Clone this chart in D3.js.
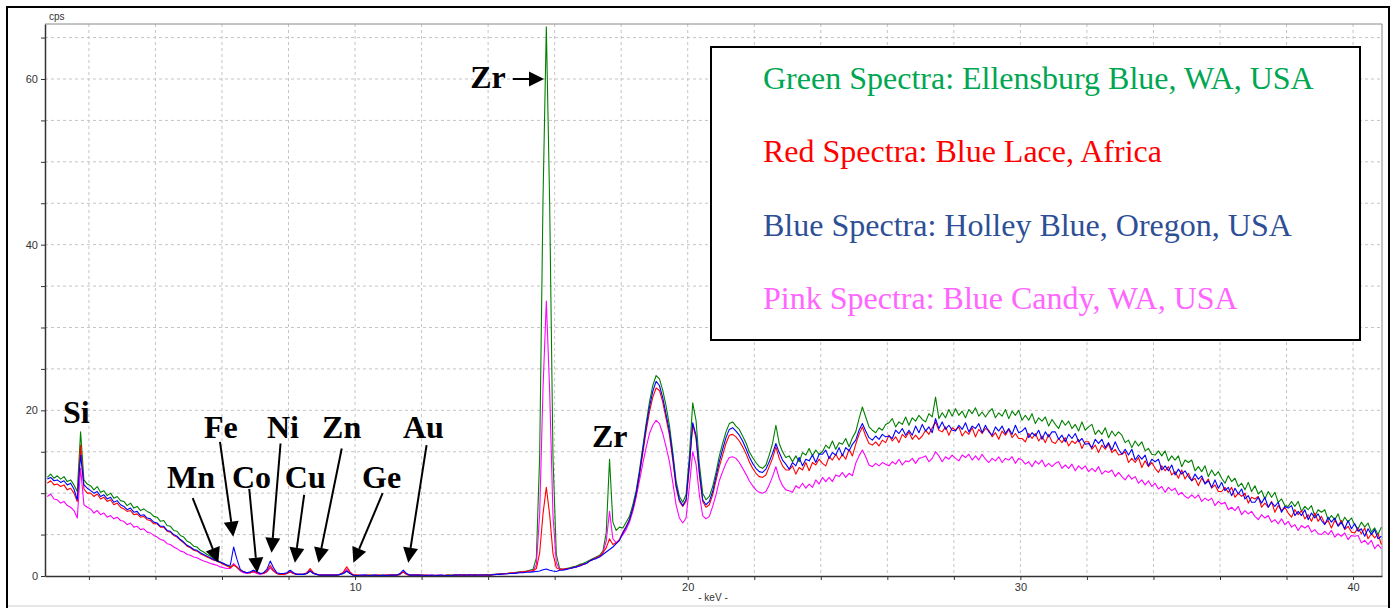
<!DOCTYPE html>
<html>
<head>
<meta charset="utf-8">
<script src="https://cdn.jsdelivr.net/npm/d3@7"></script>
<style>
  body { margin: 0; background: #fff; }
  svg { display: block; }
  .axis text { font-family: "Liberation Sans", Arial, sans-serif; font-size: 11px; fill: #333; }
  .axis line { stroke: #333; }
  .axis path { stroke: #333; stroke-width: 1.5; }
</style>
</head>
<body>
<svg id="chart" width="1395" height="608"></svg>
<script>
// Spectra, cps per 0.1 keV channel.
// Row 0 holds 0.75..0.95 keV, row n holds n.05 .. n.95 keV (row 40 stops at 40.85).
const green = [
  [11.9, 12.3, 11.8],
  [12.1, 11.7, 12.0, 11.4, 11.6, 11.0, 10.2, 17.4, 11.6, 11.1],
  [10.9, 10.4, 10.8, 10.1, 10.3, 9.7, 10.0, 9.4, 9.6, 9.1],
  [9.0, 8.5, 8.8, 8.2, 8.4, 7.9, 8.1, 7.8, 7.6, 7.2],
  [7.1, 6.6, 6.7, 6.1, 6.0, 5.5, 5.4, 4.9, 4.7, 4.2],
  [4.0, 3.6, 3.5, 3.1, 2.9, 2.6, 2.4, 2.1, 1.9, 1.7],
  [1.5, 1.3, 1.1, 1.4, 1.0, 0.7, 0.5, 0.4, 0.4, 0.5],
  [0.4, 0.3, 0.3, 0.5, 1.0, 0.6, 0.3, 0.2, 0.2, 0.3],
  [0.5, 0.3, 0.2, 0.2, 0.2, 0.3, 0.6, 0.3, 0.2, 0.1],
  [0.1, 0.1, 0.1, 0.1, 0.1, 0.2, 0.3, 0.6, 0.3, 0.1],
  [0.1, 0.05, 0.1, 0.05, 0.1, 0.1, 0.05, 0.1, 0.1, 0.1],
  [0.1, 0.1, 0.1, 0.2, 0.5, 0.2, 0.1, 0.1, 0.1, 0.1],
  [0.05, 0.1, 0.05, 0.05, 0.1, 0.05, 0.05, 0.1, 0.1, 0.1],
  [0.1, 0.1, 0.15, 0.1, 0.1, 0.15, 0.15, 0.1, 0.15, 0.15],
  [0.15, 0.2, 0.2, 0.25, 0.3, 0.3, 0.35, 0.4, 0.45, 0.5],
  [0.55, 0.6, 0.7, 0.8, 2.2, 14.5, 45.5, 66.3, 45.0, 14.3],
  [2.6, 0.9, 0.8, 0.9, 1.0, 1.1, 1.2, 1.4, 1.5, 1.7],
  [1.9, 2.1, 2.3, 2.5, 3.0, 5.2, 14.1, 6.5, 5.5, 5.9],
  [5.8, 6.5, 7.2, 8.6, 10.3, 12.8, 15.6, 18.4, 21.0, 23.0],
  [24.2, 23.8, 22.4, 20.5, 18.2, 15.0, 11.5, 9.6, 8.9, 9.8],
  [14.5, 20.9, 18.8, 13.5, 10.0, 9.2, 9.6, 10.8, 12.5, 14.5],
  [16.0, 17.4, 18.4, 18.6, 18.1, 17.7, 16.9, 16.1, 15.0, 14.3],
  [13.7, 13.2, 13.0, 13.4, 14.6, 16.0, 18.2, 16.0, 15.0, 14.3],
  [14.5, 13.8, 14.5, 13.8, 14.9, 14.6, 15.4, 14.5, 15.2, 14.7],
  [15.0, 15.8, 15.4, 16.3, 15.3, 16.1, 15.9, 16.6, 15.6, 16.7],
  [17.4, 19.0, 20.4, 19.2, 18.0, 17.6, 17.3, 17.9, 17.6, 18.3],
  [18.5, 19.0, 18.0, 18.6, 18.3, 19.2, 18.2, 19.1, 18.7, 19.4],
  [18.9, 18.6, 19.6, 19.2, 21.6, 19.0, 19.7, 19.1, 20.1, 19.3],
  [20.2, 19.4, 19.9, 19.1, 20.1, 19.6, 20.3, 19.3, 19.8, 19.2],
  [19.8, 20.2, 19.1, 19.7, 19.3, 20.1, 19.0, 19.9, 19.4, 20.0],
  [18.8, 19.4, 18.8, 19.6, 18.4, 19.1, 18.7, 19.2, 18.1, 18.9],
  [18.3, 17.8, 18.8, 18.2, 18.7, 17.8, 18.3, 17.5, 18.6, 17.6],
  [18.0, 18.3, 17.1, 17.6, 17.1, 17.9, 16.7, 17.5, 16.9, 17.4],
  [17.0, 16.1, 16.4, 15.5, 16.3, 15.7, 16.2, 15.1, 15.4, 14.7],
  [14.6, 15.1, 14.5, 15.1, 13.9, 14.5, 14.0, 14.5, 13.2, 14.0],
  [13.7, 14.0, 12.7, 13.2, 12.6, 13.3, 12.0, 12.8, 12.1, 12.6],
  [11.8, 11.2, 12.1, 11.4, 11.8, 10.8, 11.2, 10.4, 11.3, 10.2],
  [10.9, 9.9, 10.3, 9.3, 10.2, 9.5, 10.1, 8.9, 9.3, 8.5],
  [8.4, 9.0, 8.4, 9.0, 7.8, 8.4, 8.0, 8.5, 7.2, 8.0],
  [7.7, 8.0, 6.8, 7.3, 6.8, 7.5, 6.3, 7.1, 6.5, 7.0],
  [6.2, 5.7, 6.5, 5.9, 6.4, 5.3, 5.8, 5.0, 5.9]
];

const red = [
  [11.2, 11.5, 11.0],
  [11.1, 10.8, 11.0, 10.4, 10.6, 10.0, 9.0, 15.8, 10.5, 10.0],
  [10.0, 9.6, 9.9, 9.3, 9.5, 9.0, 9.2, 8.6, 8.8, 8.3],
  [8.1, 7.8, 7.9, 7.4, 7.5, 7.1, 7.2, 6.8, 6.7, 6.3],
  [6.3, 5.9, 5.9, 5.4, 5.3, 4.9, 4.7, 4.3, 4.0, 3.6],
  [3.4, 3.1, 3.0, 2.7, 2.5, 2.3, 2.1, 1.9, 1.8, 1.6],
  [1.4, 1.2, 1.0, 1.3, 1.1, 0.7, 0.5, 0.4, 0.4, 0.6],
  [0.4, 0.3, 0.3, 0.6, 1.3, 0.7, 0.3, 0.2, 0.2, 0.3],
  [0.5, 0.3, 0.2, 0.2, 0.2, 0.4, 0.9, 0.4, 0.2, 0.1],
  [0.1, 0.1, 0.1, 0.1, 0.1, 0.2, 0.5, 1.1, 0.5, 0.1],
  [0.1, 0.1, 0.05, 0.1, 0.1, 0.05, 0.1, 0.1, 0.05, 0.1],
  [0.1, 0.1, 0.1, 0.2, 0.5, 0.2, 0.1, 0.1, 0.1, 0.1],
  [0.1, 0.1, 0.05, 0.1, 0.05, 0.1, 0.05, 0.1, 0.1, 0.05],
  [0.15, 0.1, 0.1, 0.15, 0.1, 0.1, 0.15, 0.1, 0.15, 0.1],
  [0.1, 0.15, 0.2, 0.25, 0.25, 0.3, 0.35, 0.35, 0.4, 0.45],
  [0.5, 0.55, 0.6, 0.6, 0.9, 2.8, 7.5, 10.7, 7.4, 2.7],
  [1.0, 0.8, 0.8, 0.9, 0.9, 1.0, 1.1, 1.3, 1.4, 1.5],
  [1.8, 2.0, 2.2, 2.4, 2.8, 3.4, 4.5, 3.8, 4.0, 4.4],
  [5.3, 6.0, 6.8, 8.1, 9.8, 12.2, 14.8, 17.5, 19.8, 21.6],
  [22.7, 22.4, 21.0, 19.0, 17.0, 14.0, 10.7, 9.0, 8.4, 9.0],
  [13.2, 18.3, 16.6, 12.2, 9.0, 8.3, 8.6, 9.8, 11.5, 13.2],
  [14.6, 16.0, 17.0, 17.1, 16.8, 16.3, 15.6, 14.8, 13.8, 13.0],
  [12.4, 12.0, 11.9, 12.2, 13.2, 14.2, 15.6, 14.2, 13.3, 12.8],
  [12.8, 13.3, 12.3, 13.1, 12.8, 13.7, 12.7, 13.7, 13.4, 14.1],
  [13.6, 13.3, 14.4, 14.0, 14.7, 14.0, 14.7, 14.1, 15.3, 14.5],
  [15.9, 17.1, 18.0, 16.9, 16.0, 15.8, 16.2, 15.7, 16.4, 16.1],
  [17.0, 16.3, 16.8, 16.1, 17.1, 16.7, 17.4, 16.5, 17.0, 16.5],
  [16.9, 17.6, 17.1, 17.9, 18.6, 17.6, 17.4, 18.0, 17.0, 17.9],
  [17.6, 18.0, 16.9, 17.5, 17.1, 17.9, 16.8, 17.7, 17.2, 17.8],
  [17.6, 16.8, 17.3, 16.5, 17.5, 17.0, 17.7, 16.7, 17.2, 16.6],
  [16.6, 16.2, 17.2, 16.6, 17.2, 16.3, 16.9, 16.1, 17.1, 16.2],
  [16.0, 16.6, 16.1, 16.7, 15.7, 16.3, 16.0, 16.5, 15.4, 16.2],
  [16.2, 15.3, 15.8, 14.9, 15.8, 15.3, 15.9, 14.9, 15.3, 14.6],
  [14.7, 15.0, 13.7, 14.2, 13.7, 14.3, 13.1, 13.9, 13.2, 13.7],
  [13.0, 12.5, 13.3, 12.7, 13.2, 12.2, 12.6, 11.8, 12.8, 11.7],
  [12.4, 11.5, 11.8, 10.9, 11.8, 11.2, 11.7, 10.6, 11.0, 10.2],
  [10.2, 10.7, 10.1, 10.7, 9.5, 10.0, 9.6, 10.0, 8.8, 9.5],
  [9.3, 9.6, 8.3, 8.8, 8.3, 9.0, 7.7, 8.5, 7.9, 8.3],
  [7.6, 7.1, 8.0, 7.4, 7.9, 6.9, 7.4, 6.6, 7.6, 6.6],
  [7.2, 6.3, 6.7, 5.8, 6.7, 6.1, 6.7, 5.6, 6.0, 5.3],
  [5.2, 5.8, 5.1, 5.8, 4.5, 5.1, 4.6, 5.1, 3.8]
];

const blue = [
  [11.7, 11.9, 11.5],
  [11.6, 11.3, 11.5, 11.0, 11.2, 10.5, 9.2, 14.6, 11.0, 10.6],
  [10.3, 10.0, 10.2, 9.6, 9.8, 9.3, 9.5, 8.9, 9.1, 8.6],
  [8.4, 8.0, 8.2, 7.7, 7.8, 7.3, 7.4, 7.0, 6.9, 6.5],
  [6.4, 6.0, 6.0, 5.5, 5.4, 5.0, 4.8, 4.4, 4.1, 3.7],
  [3.5, 3.2, 3.1, 2.8, 2.6, 2.4, 2.2, 2.0, 1.8, 1.7],
  [1.5, 1.3, 1.3, 3.5, 2.0, 0.8, 0.5, 0.4, 0.5, 0.7],
  [0.5, 0.3, 0.4, 0.8, 1.8, 1.0, 0.4, 0.3, 0.3, 0.4],
  [0.7, 0.4, 0.2, 0.2, 0.2, 0.3, 0.6, 0.3, 0.2, 0.1],
  [0.1, 0.1, 0.1, 0.1, 0.1, 0.2, 0.3, 0.6, 0.3, 0.1],
  [0.05, 0.1, 0.1, 0.1, 0.05, 0.1, 0.1, 0.05, 0.1, 0.05],
  [0.1, 0.1, 0.1, 0.3, 0.7, 0.3, 0.1, 0.1, 0.1, 0.1],
  [0.1, 0.05, 0.1, 0.1, 0.05, 0.1, 0.1, 0.05, 0.05, 0.1],
  [0.1, 0.15, 0.1, 0.1, 0.15, 0.1, 0.1, 0.15, 0.1, 0.15],
  [0.1, 0.15, 0.2, 0.2, 0.25, 0.25, 0.3, 0.3, 0.35, 0.4],
  [0.4, 0.45, 0.45, 0.5, 0.55, 0.6, 0.75, 0.85, 0.7, 0.6],
  [0.55, 0.7, 0.7, 0.8, 0.9, 1.0, 1.1, 1.2, 1.4, 1.5],
  [1.8, 2.0, 2.1, 2.3, 2.6, 2.9, 3.2, 3.5, 3.9, 4.3],
  [5.2, 5.9, 6.8, 8.2, 10.0, 12.4, 15.2, 18.0, 20.4, 22.3],
  [23.5, 23.0, 21.5, 19.5, 17.5, 14.5, 11.0, 9.2, 8.5, 9.2],
  [13.5, 18.5, 17.0, 12.6, 9.2, 8.6, 9.0, 10.2, 12.0, 13.8],
  [15.3, 16.7, 17.7, 17.9, 17.5, 17.0, 16.3, 15.4, 14.4, 13.6],
  [13.0, 12.6, 12.5, 12.9, 13.8, 14.8, 16.0, 14.9, 14.0, 13.5],
  [12.9, 13.7, 13.3, 14.3, 13.3, 14.1, 13.9, 14.6, 13.7, 14.7],
  [14.7, 15.2, 14.2, 14.9, 14.6, 15.5, 14.5, 15.5, 15.1, 15.9],
  [16.4, 17.6, 18.4, 17.5, 16.7, 16.4, 16.9, 16.5, 17.1, 16.8],
  [16.9, 16.6, 17.6, 17.2, 17.8, 17.0, 17.6, 17.0, 18.1, 17.3],
  [18.3, 17.5, 18.0, 17.3, 19.0, 17.8, 18.6, 17.7, 18.2, 17.6],
  [17.5, 18.2, 17.7, 18.5, 17.4, 18.1, 17.8, 18.4, 17.3, 18.2],
  [17.4, 17.0, 18.0, 17.5, 18.1, 17.2, 17.8, 17.1, 18.2, 17.3],
  [17.5, 17.9, 16.7, 17.3, 16.9, 17.6, 16.5, 17.4, 16.8, 17.4],
  [17.4, 16.5, 17.0, 16.2, 17.1, 16.6, 17.2, 16.2, 16.6, 15.9],
  [16.0, 15.5, 16.5, 16.0, 16.5, 15.5, 16.1, 15.2, 16.2, 15.3],
  [14.7, 15.3, 14.6, 15.3, 14.0, 14.6, 14.1, 14.6, 13.3, 14.1],
  [13.8, 14.1, 12.8, 13.3, 12.7, 13.4, 12.2, 12.9, 12.3, 12.7],
  [12.0, 11.5, 12.3, 11.7, 12.1, 11.1, 11.5, 10.7, 11.6, 10.6],
  [11.3, 10.3, 10.7, 9.7, 10.6, 9.9, 10.5, 9.3, 9.7, 8.9],
  [8.9, 9.5, 8.8, 9.5, 8.3, 8.9, 8.4, 8.9, 7.7, 8.4],
  [8.2, 8.5, 7.3, 7.8, 7.3, 8.0, 6.8, 7.6, 7.0, 7.5],
  [6.7, 6.2, 7.1, 6.5, 7.0, 6.0, 6.5, 5.7, 6.7, 5.7],
  [6.3, 5.4, 5.7, 4.8, 5.7, 5.0, 5.6, 4.5, 4.8]
];

const pink = [
  [9.6, 9.9, 9.3],
  [9.2, 8.8, 9.0, 8.5, 8.3, 7.9, 7.0, 13.0, 8.6, 8.3],
  [8.1, 7.6, 7.9, 7.4, 7.6, 7.1, 7.3, 6.9, 7.1, 6.7],
  [6.6, 6.2, 6.4, 5.9, 6.0, 5.6, 5.7, 5.3, 5.2, 4.9],
  [4.7, 4.4, 4.3, 3.9, 3.8, 3.5, 3.3, 3.0, 2.9, 2.6],
  [2.5, 2.3, 2.2, 2.0, 1.8, 1.7, 1.5, 1.4, 1.3, 1.1],
  [1.0, 0.9, 0.9, 1.5, 1.1, 0.6, 0.4, 0.3, 0.4, 0.5],
  [0.3, 0.2, 0.3, 0.5, 1.0, 0.6, 0.3, 0.2, 0.2, 0.3],
  [0.5, 0.3, 0.2, 0.2, 0.2, 0.3, 0.7, 0.3, 0.2, 0.1],
  [0.1, 0.1, 0.1, 0.1, 0.1, 0.2, 0.4, 0.8, 0.4, 0.1],
  [0.1, 0.05, 0.1, 0.1, 0.05, 0.1, 0.1, 0.05, 0.1, 0.1],
  [0.1, 0.1, 0.1, 0.2, 0.5, 0.2, 0.1, 0.1, 0.1, 0.1],
  [0.05, 0.1, 0.1, 0.05, 0.1, 0.1, 0.05, 0.1, 0.05, 0.1],
  [0.1, 0.1, 0.15, 0.1, 0.15, 0.1, 0.15, 0.1, 0.1, 0.15],
  [0.1, 0.15, 0.2, 0.2, 0.25, 0.3, 0.3, 0.35, 0.4, 0.45],
  [0.5, 0.55, 0.6, 0.6, 1.4, 7.5, 22.6, 33.2, 22.3, 7.3],
  [1.6, 0.8, 0.8, 0.8, 0.9, 1.0, 1.1, 1.2, 1.4, 1.5],
  [1.8, 2.0, 2.2, 2.4, 2.8, 4.2, 7.8, 4.5, 4.0, 4.4],
  [5.0, 5.6, 6.5, 7.8, 9.5, 11.5, 13.6, 15.5, 17.2, 18.2],
  [18.8, 18.4, 17.2, 15.6, 13.8, 11.3, 8.6, 7.0, 6.4, 7.0],
  [10.8, 15.0, 13.5, 9.8, 7.3, 6.9, 7.2, 8.4, 9.8, 11.5],
  [12.6, 13.6, 14.3, 14.4, 14.2, 13.7, 13.0, 12.3, 11.5, 10.9],
  [10.4, 10.1, 10.0, 10.2, 11.0, 12.0, 13.2, 11.8, 10.9, 10.4],
  [10.3, 10.1, 10.9, 10.6, 11.2, 10.6, 11.1, 10.7, 11.6, 11.1],
  [11.9, 11.4, 11.9, 11.4, 12.2, 12.0, 12.5, 11.9, 12.4, 12.1],
  [13.6, 14.5, 15.2, 14.4, 13.4, 13.2, 13.6, 13.3, 13.7, 13.5],
  [13.3, 13.8, 13.5, 14.1, 13.4, 13.9, 13.8, 14.2, 13.6, 14.2],
  [14.3, 14.5, 13.8, 14.2, 15.0, 14.5, 13.8, 14.4, 14.1, 14.6],
  [14.2, 13.9, 14.6, 14.3, 14.7, 14.0, 14.5, 14.0, 14.7, 14.1],
  [13.7, 14.2, 13.9, 14.4, 13.7, 14.2, 14.0, 14.4, 13.6, 14.2],
  [14.0, 13.5, 13.8, 13.2, 13.9, 13.5, 14.0, 13.2, 13.6, 13.2],
  [13.6, 13.8, 13.0, 13.4, 13.0, 13.5, 12.7, 13.3, 12.9, 13.3],
  [12.6, 13.0, 12.6, 13.2, 12.3, 12.7, 12.5, 12.8, 12.0, 12.5],
  [12.0, 11.6, 12.2, 11.7, 12.0, 11.2, 11.6, 11.0, 11.5, 10.8],
  [11.2, 10.5, 10.8, 10.1, 10.7, 10.3, 10.6, 9.8, 10.1, 9.6],
  [9.4, 9.8, 9.4, 9.8, 9.0, 9.4, 9.1, 9.4, 8.5, 9.0],
  [8.7, 8.9, 8.0, 8.3, 7.9, 8.4, 7.4, 7.9, 7.5, 7.8],
  [7.2, 6.8, 7.4, 7.0, 7.3, 6.5, 6.8, 6.3, 6.9, 6.2],
  [6.6, 5.9, 6.2, 5.5, 6.1, 5.8, 6.1, 5.3, 5.6, 5.1],
  [5.0, 5.4, 5.0, 5.5, 4.7, 5.1, 4.8, 5.2, 4.4, 4.9],
  [4.8, 4.9, 4.0, 4.3, 3.8, 4.3, 3.3, 3.8, 3.3]
];

const legendLabels = [
  "Green Spectra: Ellensburg Blue, WA, USA",
  "Red Spectra: Blue Lace, Africa",
  "Blue Spectra: Holley Blue, Oregon, USA",
  "Pink Spectra: Blue Candy, WA, USA"
];
const legendColors = ["#00a651", "#ff0000", "#2e4f96", "#ff66ff"];

// element labels: text position and arrow tail/tip, in keV / cps
const elements = [
  {label: "Si", x: 1.22, y: 18.5},
  {label: "Fe", x: 5.46, y: 16.6, from: [5.94, 16.2], to: [6.34, 4.75]},
  {label: "Ni", x: 7.35, y: 16.6, from: [7.76, 16.0], to: [7.49, 2.8]},
  {label: "Zn", x: 9.01, y: 16.6, from: [9.60, 15.4], to: [8.90, 1.6]},
  {label: "Au", x: 11.44, y: 16.6, from: [12.15, 15.8], to: [11.60, 1.6]},
  {label: "Mn", x: 4.35, y: 10.6, from: [5.12, 9.4], to: [5.89, 1.6]},
  {label: "Co", x: 6.30, y: 10.6, from: [6.82, 10.5], to: [7.06, 0.4]},
  {label: "Cu", x: 7.89, y: 10.6, from: [8.47, 9.8], to: [8.19, 1.6]},
  {label: "Ge", x: 10.21, y: 10.6, from: [10.83, 10.0], to: [9.95, 1.6]},
  {label: "Zr", x: 13.46, y: 58.9, from: [14.74, 60.0], to: [15.68, 60.0]},
  {label: "Zr", x: 17.12, y: 15.6}
];

function channels(rows) {
  const pts = [];
  rows.forEach((row, r) => row.forEach((v, j) => {
    const e = r === 0 ? 0.75 + 0.1 * j : r + 0.05 + 0.1 * j;
    pts.push([e, v]);
  }));
  return pts;
}

const series = [
  {color: "#008000", data: channels(green)},
  {color: "#ff00ff", data: channels(pink)},
  {color: "#ff0000", data: channels(red)},
  {color: "#0000ff", data: channels(blue)}
];

const svg = d3.select("#chart");
const plot = {left: 45, right: 1382, top: 24, bottom: 576};

const x = d3.scaleLinear().domain([0.68, 40.87]).range([plot.left, plot.right]);
const y = d3.scaleLinear().domain([0, 66.64]).range([plot.bottom, plot.top]);

svg.append("rect").attr("width", 1395).attr("height", 608).attr("fill", "#fff");

// outer frame (the bottom edge is cut off in the original, only a faint line)
svg.append("path")
   .attr("d", "M7,608V7H1389V608")
   .attr("fill", "none").attr("stroke", "#000").attr("stroke-width", 2);
svg.append("line")
   .attr("x1", 8).attr("x2", 1388).attr("y1", 606).attr("y2", 606)
   .attr("stroke", "#e6e6e6").attr("stroke-width", 2);

// dashed grid
const grid = svg.append("g").attr("stroke", "#c4c4c4").attr("stroke-dasharray", "3,3");
grid.selectAll(".gx").data(d3.range(2, 41, 2)).join("line")
    .attr("x1", d => x(d)).attr("x2", d => x(d))
    .attr("y1", plot.top).attr("y2", plot.bottom);
grid.selectAll(".gy").data(d3.range(5, 66, 5)).join("line")
    .attr("x1", plot.left).attr("x2", plot.right)
    .attr("y1", d => y(d)).attr("y2", d => y(d));

// top and right border of the plot area
svg.append("path")
   .attr("d", `M${plot.left},${plot.top}H${plot.right}V${plot.bottom}`)
   .attr("fill", "none").attr("stroke", "#888");

svg.append("clipPath").attr("id", "clip")
   .append("rect").attr("x", plot.left).attr("y", plot.top - 2)
   .attr("width", plot.right - plot.left).attr("height", plot.bottom - plot.top + 2);

const line = d3.line().x(d => x(d[0])).y(d => y(d[1]));

svg.append("g").attr("clip-path", "url(#clip)")
   .selectAll("path").data(series).join("path")
   .attr("fill", "none")
   .attr("stroke", d => d.color)
   .attr("stroke-width", 1.1)
   .attr("stroke-linejoin", "round")
   .attr("d", d => line(d.data));

// axes
svg.append("g").attr("class", "axis")
   .attr("transform", `translate(${plot.left},0)`)
   .call(d3.axisLeft(y).tickValues(d3.range(0, 66, 5))
          .tickFormat(d => d % 20 === 0 ? d : "").tickSize(4).tickSizeOuter(0));

svg.append("g").attr("class", "axis")
   .attr("transform", `translate(0,${plot.bottom})`)
   .call(d3.axisBottom(x).tickValues(d3.range(2, 41, 2))
          .tickFormat(d => d % 10 === 0 ? d : "").tickSize(4).tickSizeOuter(0));

svg.append("text").attr("x", 49).attr("y", 20)
   .style("font-family", "'Liberation Sans', Arial, sans-serif").style("font-size", "10px")
   .attr("fill", "#333").text("cps");

svg.append("text").attr("x", 713).attr("y", 601).attr("text-anchor", "middle")
   .style("font-family", "'Liberation Sans', Arial, sans-serif").style("font-size", "10px")
   .attr("fill", "#333").text("- keV -");

// element labels and arrows
const ann = svg.append("g");
ann.selectAll("text").data(elements).join("text")
   .attr("x", d => x(d.x)).attr("y", d => y(d.y))
   .style("font-family", "'Times New Roman', 'Liberation Serif', serif")
   .style("font-size", "32px").style("font-weight", "bold")
   .attr("fill", "#000")
   .text(d => d.label);

elements.filter(d => d.from).forEach(d => {
  const x0 = x(d.from[0]), y0 = y(d.from[1]);
  const x1 = x(d.to[0]), y1 = y(d.to[1]);
  const len = Math.hypot(x1 - x0, y1 - y0);
  const ux = (x1 - x0) / len, uy = (y1 - y0) / len;
  const head = 15, half = 7.5;
  const bx = x1 - ux * head, by = y1 - uy * head;
  ann.append("line")
     .attr("x1", x0).attr("y1", y0).attr("x2", bx).attr("y2", by)
     .attr("stroke", "#000").attr("stroke-width", 2);
  ann.append("path")
     .attr("d", `M${x1},${y1}L${bx - uy * half},${by + ux * half}L${bx + uy * half},${by - ux * half}Z`)
     .attr("fill", "#000");
});

// legend box
const legend = svg.append("g");
legend.append("rect")
      .attr("x", 711).attr("y", 47).attr("width", 649).attr("height", 293)
      .attr("fill", "#fff").attr("stroke", "#000").attr("stroke-width", 2);

legend.selectAll("text").data(legendLabels).join("text")
      .attr("x", 763).attr("y", (d, i) => 89 + i * 73.3)
      .style("font-family", "'Times New Roman', 'Liberation Serif', serif")
      .style("font-size", "32px")
      .attr("fill", (d, i) => legendColors[i])
      .text(d => d);
</script>
</body>
</html>
